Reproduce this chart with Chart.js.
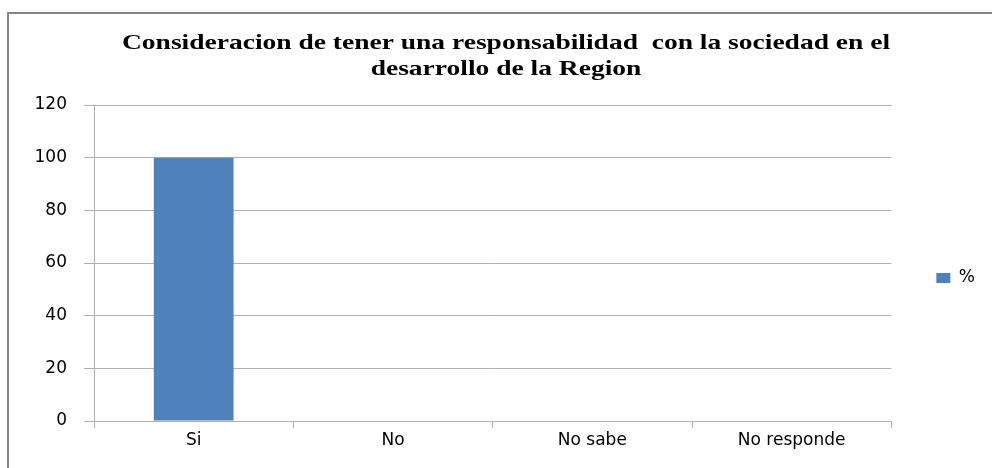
<!DOCTYPE html>
<html>
<head>
<meta charset="utf-8">
<script src="https://cdn.jsdelivr.net/npm/chart.js@4"></script>
<style>
  html, body { margin: 0; padding: 0; background: #fff; overflow: hidden; }
  #frame {
    position: absolute; left: 7px; top: 12px; width: 1000px; height: 500px;
    border: 2px solid #868686;
  }
  #wrap { position: absolute; left: 0; top: 0; width: 992px; height: 468px; }
</style>
</head>
<body>
<div id="frame"></div>
<div id="wrap"><canvas id="chart" width="992" height="468"></canvas></div>
<script>
const titleLines = ['Consideracion de tener una responsabilidad  con la sociedad en el', 'desarrollo de la Region'];
const categories = ['Si', 'No', 'No sabe', 'No responde'];
const seriesName = '%';
const values = [100, 0, 0, 0];
const yTicks = [0, 20, 40, 60, 80, 100, 120];

// title is drawn stretched, like the source picture
const stretchedTitle = {
    id: 'stretchedTitle',
    afterDraw(chart) {
        const ctx = chart.ctx;
        ctx.save();
        ctx.font = 'bold 22px "Liberation Serif", "Times New Roman", serif';
        ctx.fillStyle = '#000';
        ctx.textAlign = 'center';
        ctx.textBaseline = 'alphabetic';
        const baselines = [49, 75];
        titleLines.forEach((line, i) => {
            ctx.save();
            ctx.translate(506, baselines[i]);
            ctx.scale(1.25, 1);
            ctx.fillText(line, 0, 0);
            ctx.restore();
        });
        ctx.restore();
    }
};

const gridColor = '#b0b0b0';
const tickFont = { family: '"DejaVu Sans", sans-serif', size: 17 };

new Chart(document.getElementById('chart'), {
    type: 'bar',
    data: {
        labels: categories,
        datasets: [{
            label: seriesName,
            data: values,
            backgroundColor: '#4f81bd',
            borderWidth: 0,
            barPercentage: 0.4,
            categoryPercentage: 1
        }]
    },
    options: {
        responsive: false,
        animation: false,
        devicePixelRatio: 1,
        layout: { padding: { top: 105, right: 7, bottom: 17, left: 0 } },
        scales: {
            x: {
                offset: true,
                grid: {
                    offset: true,
                    drawOnChartArea: false,
                    drawTicks: true,
                    tickLength: 7,
                    color: gridColor
                },
                border: { color: gridColor, width: 1 },
                ticks: { color: '#000', font: tickFont, padding: 2 },
                afterFit: (scale) => { scale.height = 30; }
            },
            y: {
                min: 0,
                max: 120,
                afterBuildTicks: (scale) => { scale.ticks = yTicks.map(v => ({ value: v })); },
                grid: { color: gridColor, tickLength: 10, drawTicks: true },
                border: { color: gridColor, width: 1 },
                ticks: { color: '#000', font: tickFont, padding: 17 },
                afterFit: (scale) => { scale.width = 94; }
            }
        },
        plugins: {
            title: { display: false },
            tooltip: { enabled: false },
            legend: {
                position: 'right',
                labels: {
                    boxWidth: 14,
                    boxHeight: 10,
                    padding: 45,
                    color: '#000',
                    font: tickFont
                }
            }
        }
    },
    plugins: [stretchedTitle]
});
</script>
</body>
</html>
